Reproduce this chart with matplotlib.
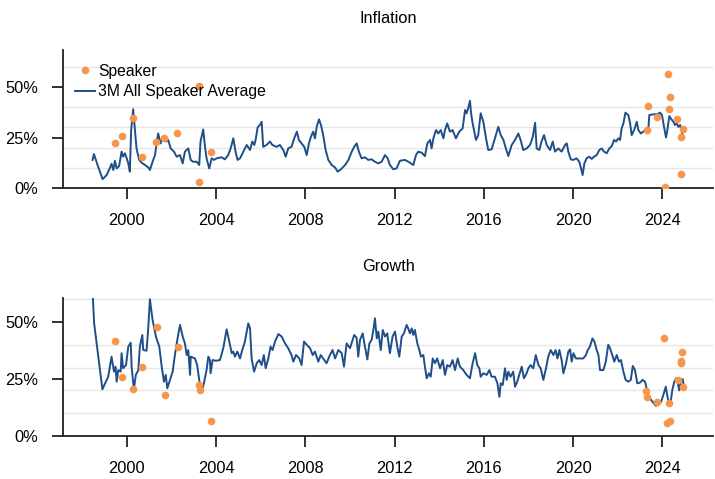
import matplotlib
matplotlib.use('agg')
import matplotlib.pyplot as plt
from matplotlib.ticker import FixedLocator, FuncFormatter

plt.rcParams['font.family'] = ['Liberation Sans', 'DejaVu Sans']

# inflation: 3M all speaker average (%), decimal years
infl_dates = [1998.46, 1998.52, 1998.71, 1998.91, 1999.09, 1999.24, 1999.31, 1999.39, 1999.46, 1999.54,
              1999.65, 1999.76, 1999.83, 1999.91, 1999.99, 2000.06, 2000.13, 2000.19, 2000.28, 2000.36,
              2000.43, 2000.55, 2000.66, 2000.81, 2000.96, 2001.03, 2001.15, 2001.26, 2001.33, 2001.40,
              2001.51, 2001.63, 2001.75, 2001.85, 2001.96, 2002.11, 2002.23, 2002.38, 2002.50, 2002.60,
              2002.75, 2002.86, 2002.97, 2003.13, 2003.24, 2003.30, 2003.42, 2003.50, 2003.57, 2003.69,
              2003.80, 2003.90, 2004.02, 2004.25, 2004.39, 2004.54, 2004.65, 2004.77, 2004.87, 2004.96,
              2005.07, 2005.22, 2005.37, 2005.52, 2005.62, 2005.71, 2005.77, 2005.86, 2005.96, 2006.04,
              2006.11, 2006.26, 2006.41, 2006.52, 2006.71, 2006.86, 2007.01, 2007.12, 2007.23, 2007.38,
              2007.50, 2007.62, 2007.71, 2007.83, 2007.95, 2008.06, 2008.16, 2008.25, 2008.35, 2008.43,
              2008.51, 2008.61, 2008.70, 2008.80, 2008.91, 2009.03, 2009.18, 2009.33, 2009.45, 2009.60,
              2009.78, 2009.93, 2010.08, 2010.19, 2010.30, 2010.40, 2010.52, 2010.67, 2010.82, 2010.97,
              2011.12, 2011.27, 2011.42, 2011.57, 2011.69, 2011.79, 2011.94, 2012.09, 2012.24, 2012.47,
              2012.69, 2012.84, 2012.96, 2013.06, 2013.21, 2013.36, 2013.47, 2013.59, 2013.66, 2013.74,
              2013.86, 2013.96, 2014.07, 2014.19, 2014.26, 2014.36, 2014.48, 2014.60, 2014.75, 2014.90,
              2015.05, 2015.16, 2015.23, 2015.30, 2015.38, 2015.43, 2015.50, 2015.56, 2015.65, 2015.75,
              2015.86, 2015.98, 2016.10, 2016.20, 2016.35, 2016.50, 2016.65, 2016.76, 2016.88, 2016.99,
              2017.10, 2017.25, 2017.40, 2017.55, 2017.65, 2017.77, 2017.92, 2018.07, 2018.19, 2018.30,
              2018.37, 2018.49, 2018.59, 2018.70, 2018.82, 2018.97, 2019.09, 2019.19, 2019.34, 2019.49,
              2019.64, 2019.72, 2019.79, 2019.90, 2020.01, 2020.16, 2020.28, 2020.36, 2020.43, 2020.51,
              2020.61, 2020.73, 2020.84, 2020.94, 2021.06, 2021.18, 2021.29, 2021.39, 2021.51, 2021.63,
              2021.74, 2021.84, 2021.93, 2022.03, 2022.11, 2022.18, 2022.26, 2022.35, 2022.48, 2022.56,
              2022.63, 2022.74, 2022.86, 2022.93, 2023.04, 2023.15, 2023.27, 2023.38, 2023.42, 2023.60,
              2023.78, 2023.90, 2023.99, 2024.08, 2024.17, 2024.23, 2024.32, 2024.43, 2024.50, 2024.57,
              2024.65, 2024.72, 2024.80, 2024.86, 2024.92, 2024.98]
infl_avg = [13.9, 16.8, 10.5, 4.4, 6.4, 10.0, 12.0, 8.9, 13.5, 9.7,
            10.9, 18.0, 15.5, 17.2, 14.7, 12.2, 8.1, 28.7, 39.0, 28.7,
            19.6, 13.9, 12.5, 11.4, 10.2, 8.9, 13.0, 16.3, 22.1, 27.0,
            22.1, 25.4, 23.0, 23.8, 19.6, 18.0, 15.5, 16.3, 12.2, 18.0,
            19.6, 13.9, 13.0, 13.0, 11.4, 23.0, 29.0, 20.4, 14.7, 9.7,
            14.7, 13.9, 14.7, 15.2, 14.2, 16.3, 19.6, 24.6, 18.0, 13.9,
            14.7, 18.0, 21.3, 18.8, 23.0, 21.3, 23.8, 30.0, 31.2, 32.8,
            20.4, 21.3, 23.0, 21.3, 20.4, 21.3, 18.8, 15.5, 19.6, 20.4,
            24.6, 27.9, 23.8, 22.1, 20.4, 16.3, 22.1, 25.4, 27.9, 24.6,
            30.3, 34.0, 31.2, 26.2, 18.8, 13.9, 11.4, 10.2, 8.1, 9.3,
            11.4, 13.9, 18.0, 20.4, 22.1, 18.0, 14.7, 15.2, 13.9, 14.2,
            13.0, 12.2, 13.0, 16.3, 14.7, 11.4, 9.3, 9.7, 13.5, 13.9,
            12.5, 11.4, 16.3, 18.0, 17.5, 15.8, 22.1, 23.8, 19.6, 24.6,
            28.7, 27.0, 28.7, 24.6, 28.7, 32.0, 27.9, 28.7, 24.6, 27.9,
            29.5, 38.6, 37.0, 39.5, 43.2, 37.0, 32.0, 28.7, 23.8, 26.2,
            37.0, 32.8, 24.6, 18.8, 19.1, 24.6, 30.3, 26.2, 23.8, 19.6,
            15.8, 21.3, 23.8, 27.0, 23.8, 18.8, 19.6, 21.3, 25.0, 32.3,
            19.6, 18.8, 23.0, 26.2, 21.3, 18.8, 23.0, 18.0, 19.6, 18.0,
            21.3, 22.1, 18.0, 14.2, 13.9, 14.7, 13.0, 9.7, 6.4, 12.2,
            14.7, 15.5, 14.4, 15.5, 16.3, 18.8, 19.6, 18.0, 17.2, 19.6,
            20.8, 23.8, 23.0, 24.6, 23.8, 29.5, 32.0, 37.3, 36.1, 32.0,
            26.2, 28.7, 32.8, 28.7, 27.0, 27.9, 29.0, 29.5, 36.1, 36.5,
            36.5, 37.3, 36.1, 30.3, 25.0, 28.7, 35.6, 33.7, 32.8, 31.2,
            32.0, 30.3, 31.2, 28.7, 25.7, 25.0]

infl_spk_dates = [1999.46, 1999.76, 2000.28, 2000.69, 2001.29, 2001.67, 2002.26, 2003.24, 2003.23, 2003.77,
                  2023.35, 2023.33, 2023.78, 2024.25, 2024.35, 2024.30, 2024.68, 2024.95, 2024.83, 2024.86,
                  2024.13]
infl_spk = [22.1, 25.7, 34.5, 15.5, 22.6, 24.9, 27.0, 50.5, 3.1, 18.0,
            40.7, 28.7, 35.0, 56.3, 44.9, 39.3, 34.0, 29.2, 25.4, 6.8,
            0.6]

# growth: 3M all speaker average (%)
grow_dates = [1998.40, 1998.53, 1998.90, 1999.16, 1999.31, 1999.42, 1999.49, 1999.54, 1999.61, 1999.72,
              1999.76, 1999.83, 1999.96, 2000.06, 2000.17, 2000.21, 2000.31, 2000.40, 2000.51, 2000.58,
              2000.69, 2000.73, 2000.88, 2000.96, 2001.03, 2001.15, 2001.30, 2001.45, 2001.56, 2001.66,
              2001.74, 2001.81, 2001.93, 2002.05, 2002.15, 2002.27, 2002.38, 2002.50, 2002.60, 2002.68,
              2002.75, 2002.83, 2002.86, 2003.05, 2003.15, 2003.24, 2003.35, 2003.45, 2003.57, 2003.65,
              2003.72, 2003.75, 2003.84, 2003.99, 2004.17, 2004.32, 2004.47, 2004.59, 2004.70, 2004.77,
              2004.84, 2004.95, 2005.07, 2005.17, 2005.29, 2005.44, 2005.52, 2005.59, 2005.70, 2005.82,
              2005.93, 2006.04, 2006.14, 2006.22, 2006.34, 2006.44, 2006.53, 2006.64, 2006.79, 2006.94,
              2007.09, 2007.23, 2007.38, 2007.46, 2007.58, 2007.73, 2007.83, 2007.94, 2008.06, 2008.21,
              2008.33, 2008.43, 2008.58, 2008.69, 2008.80, 2008.95, 2009.10, 2009.22, 2009.33, 2009.48,
              2009.63, 2009.73, 2009.85, 2010.00, 2010.12, 2010.19, 2010.30, 2010.37, 2010.45, 2010.57,
              2010.67, 2010.78, 2010.87, 2010.97, 2011.05, 2011.12, 2011.20, 2011.27, 2011.38, 2011.47,
              2011.57, 2011.67, 2011.79, 2011.91, 2012.02, 2012.12, 2012.21, 2012.32, 2012.42, 2012.54,
              2012.61, 2012.69, 2012.77, 2012.84, 2012.91, 2013.02, 2013.11, 2013.18, 2013.29, 2013.36,
              2013.44, 2013.54, 2013.62, 2013.71, 2013.81, 2013.91, 2014.04, 2014.16, 2014.26, 2014.36,
              2014.48, 2014.60, 2014.71, 2014.83, 2014.93, 2015.08, 2015.23, 2015.38, 2015.50, 2015.61,
              2015.71, 2015.80, 2015.86, 2015.98, 2016.13, 2016.25, 2016.35, 2016.50, 2016.61, 2016.70,
              2016.76, 2016.85, 2016.95, 2017.03, 2017.10, 2017.20, 2017.32, 2017.40, 2017.50, 2017.59,
              2017.70, 2017.80, 2017.92, 2018.00, 2018.10, 2018.22, 2018.33, 2018.45, 2018.55, 2018.67,
              2018.79, 2018.89, 2019.00, 2019.12, 2019.22, 2019.30, 2019.39, 2019.49, 2019.57, 2019.69,
              2019.79, 2019.87, 2019.94, 2020.02, 2020.13, 2020.31, 2020.46, 2020.58, 2020.66, 2020.76,
              2020.87, 2020.96, 2021.06, 2021.14, 2021.21, 2021.36, 2021.47, 2021.58, 2021.66, 2021.76,
              2021.85, 2021.96, 2022.06, 2022.15, 2022.26, 2022.36, 2022.48, 2022.59, 2022.68, 2022.78,
              2022.88, 2023.00, 2023.12, 2023.23, 2023.30, 2023.37, 2023.48, 2023.60, 2023.72, 2023.82,
              2023.95, 2024.05, 2024.16, 2024.23, 2024.30, 2024.38, 2024.45, 2024.54, 2024.62, 2024.69,
              2024.76, 2024.84, 2024.92, 2024.95]
grow_avg = [75.0, 49.4, 20.5, 26.0, 34.8, 28.2, 30.4, 23.8, 28.9, 28.2,
            36.3, 29.7, 31.1, 39.2, 40.9, 30.4, 20.5, 26.8, 28.9, 39.2,
            44.3, 37.7, 37.4, 48.0, 60.0, 50.9, 43.6, 39.2, 30.4, 23.8,
            26.8, 20.9, 24.6, 28.2, 35.5, 42.8, 48.7, 43.6, 40.6, 35.5,
            37.7, 26.8, 34.8, 34.0, 31.1, 24.6, 19.4, 23.1, 28.9, 34.8,
            33.3, 27.5, 33.3, 33.0, 33.3, 38.5, 46.8, 41.4, 36.3, 37.0,
            34.8, 37.0, 34.0, 37.7, 41.4, 49.4, 47.2, 34.0, 28.2, 31.9,
            33.3, 31.1, 35.5, 29.7, 34.0, 39.2, 37.7, 41.4, 44.7, 43.6,
            40.6, 38.5, 35.5, 32.6, 35.5, 34.0, 31.1, 41.4, 40.0, 38.5,
            35.5, 37.0, 32.6, 35.5, 34.0, 31.9, 35.5, 37.7, 34.0, 37.7,
            36.3, 30.4, 40.6, 38.5, 42.1, 44.3, 43.0, 34.8, 42.1, 45.0,
            39.2, 33.6, 40.6, 42.1, 46.5, 51.6, 42.8, 45.8, 37.7, 46.5,
            43.6, 45.0, 36.3, 43.6, 45.8, 39.2, 34.8, 43.6, 45.0, 48.7,
            47.2, 45.0, 47.2, 44.3, 46.5, 40.6, 37.7, 34.8, 35.5, 30.4,
            25.3, 27.5, 26.0, 34.0, 31.9, 34.0, 29.7, 33.3, 26.8, 31.1,
            30.4, 33.3, 28.9, 34.0, 30.4, 28.9, 26.8, 25.3, 31.9, 36.3,
            31.1, 29.7, 26.0, 27.5, 26.8, 28.9, 26.0, 26.0, 23.1, 17.2,
            23.1, 22.4, 29.7, 24.6, 28.2, 26.0, 28.2, 21.6, 23.8, 26.8,
            30.4, 25.3, 27.5, 29.7, 31.1, 29.7, 35.5, 31.1, 29.7, 24.6,
            29.7, 34.8, 37.7, 35.5, 37.7, 34.0, 37.7, 33.3, 27.5, 31.9,
            37.0, 38.0, 32.6, 36.3, 34.0, 34.0, 34.0, 35.5, 37.7, 39.2,
            42.8, 41.4, 37.7, 35.5, 28.9, 28.9, 32.6, 40.0, 38.5, 35.5,
            32.6, 35.5, 32.6, 33.3, 28.2, 24.6, 23.8, 24.6, 30.7, 28.9,
            23.1, 23.4, 24.6, 23.8, 20.9, 18.0, 16.1, 14.6, 13.2, 14.3,
            15.0, 18.0, 21.6, 17.5, 14.3, 15.0, 20.0, 23.8, 25.3, 23.8,
            20.0, 24.6, 24.9, 23.0]

grow_spk_dates = [1999.46, 1999.76, 2000.28, 2000.69, 2001.33, 2001.70, 2002.27, 2003.23, 2003.27, 2003.77,
                  2023.26, 2023.33, 2023.75, 2024.09, 2024.23, 2024.35, 2024.32, 2024.69, 2024.87, 2024.82,
                  2024.84, 2024.95]
grow_spk = [41.7, 25.7, 20.6, 30.1, 48.0, 18.0, 39.2, 22.4, 20.2, 6.6,
            19.9, 17.0, 15.1, 43.1, 5.8, 6.7, 14.6, 24.6, 36.7, 33.0,
            32.0, 21.4]

year_ticks = [2000, 2004, 2008, 2012, 2016, 2020, 2024]
line_color = '#1f4e89'
dot_color = '#f7964a'

fig = plt.figure(figsize=(7.15, 4.79), dpi=100)
ax1 = fig.add_axes([0.088, 0.6075, 0.909, 0.288])
ax2 = fig.add_axes([0.088, 0.0898, 0.909, 0.288])

panels = [
    (ax1, 'Inflation', infl_dates, infl_avg, infl_spk_dates, infl_spk, 68.3, 0.962),
    (ax2, 'Growth', grow_dates, grow_avg, grow_spk_dates, grow_spk, 60.5, 0.4426),
]

for ax, title, d, avg, sd, spk, ytop, ty in panels:
    ax.plot(sd, spk, 'o', color=dot_color, markersize=5.5, markeredgewidth=0,
            label='Speaker', zorder=3)
    ax.plot(d, avg, '-', color=line_color, linewidth=1.4,
            label='3M All Speaker Average', zorder=2)
    ax.set_xlim(1997.13, 2026.27)
    ax.set_ylim(0, ytop)
    ax.yaxis.set_major_locator(FixedLocator([0, 25, 50]))
    ax.yaxis.set_minor_locator(FixedLocator([10, 20, 30, 40, 50, 60]))
    ax.yaxis.set_major_formatter(FuncFormatter(lambda v, p: '{:.0f}%'.format(v)))
    ax.grid(which='minor', axis='y', color='#e6e6e6', linewidth=1)
    ax.set_axisbelow(True)
    ax.set_xticks(year_ticks)
    ax.set_xticklabels([str(y) for y in year_ticks])
    for s in ['top', 'right']:
        ax.spines[s].set_visible(False)
    for s in ['left', 'bottom']:
        ax.spines[s].set_linewidth(1.3)
        ax.spines[s].set_color('#222222')
    ax.tick_params(axis='both', which='major', direction='out', length=8, width=1.3,
                   color='#222222', labelsize=11.8, pad=10)
    ax.tick_params(axis='y', which='minor', length=0)
    fig.text(0.543, ty, title, ha='center', va='center', fontsize=11.8)

ax1.legend(loc='upper left', bbox_to_anchor=(0.0185, 0.899), frameon=False, fontsize=11.3,
           handlelength=1.25, handletextpad=0.25, labelspacing=0.33,
           borderaxespad=0, borderpad=0)

plt.savefig('out.png', dpi=100)
